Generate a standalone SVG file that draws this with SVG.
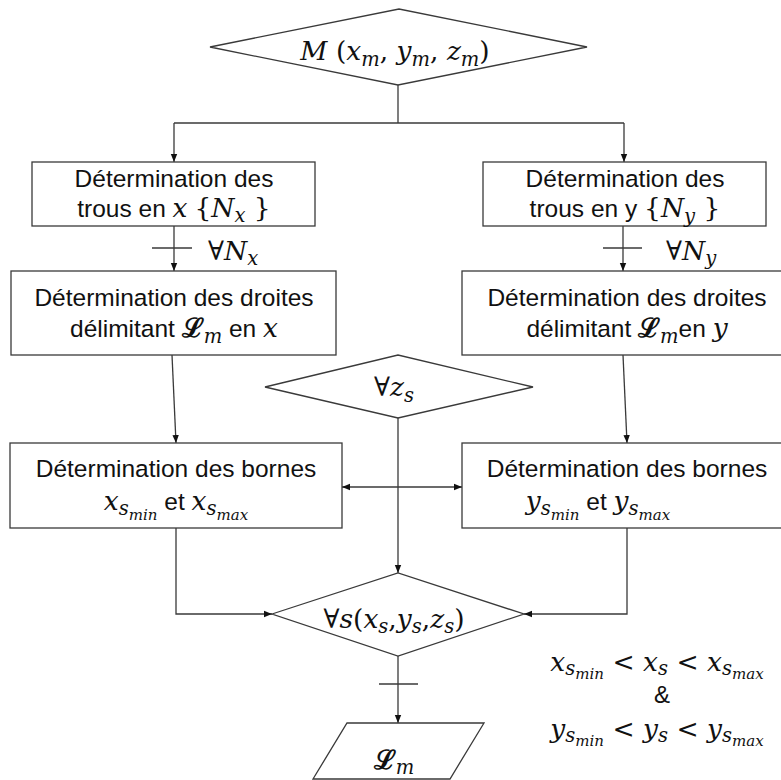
<svg xmlns="http://www.w3.org/2000/svg" width="781" height="780" viewBox="0 0 781 780">
<style>
.shape{fill:#fff;stroke:#3a3a3a;stroke-width:1.3}
.ln{fill:none;stroke:#3a3a3a;stroke-width:1.3}
.t{font-family:"Liberation Sans",Arial,sans-serif;font-size:24.5px;fill:#111;text-anchor:middle}
.m{font-family:"DejaVu Serif",serif;font-style:italic;font-size:26.5px;fill:#111}
.up{font-style:normal}
.s{font-size:19.5px}
.ss{font-size:15px}
.L{font-family:"DejaVu Serif",serif;font-weight:bold;font-style:normal}
</style>
<defs>
<marker id="ah" viewBox="0 0 10 10" refX="10" refY="5" markerWidth="8" markerHeight="8" markerUnits="userSpaceOnUse" orient="auto-start-reverse">
<path d="M0,1 L10,5 L0,9 Z" fill="#111"/>
</marker>
</defs>
<rect width="781" height="780" fill="#fff"/>

<g id="connectors">
<polyline class="ln" points="398,85 398,123"/>
<polyline class="ln" points="174,123 624,123"/>
<line class="ln" x1="174" y1="123" x2="174" y2="162" marker-end="url(#ah)"/>
<line class="ln" x1="624" y1="123" x2="624" y2="162" marker-end="url(#ah)"/>
<line class="ln" x1="174" y1="226" x2="174" y2="271" marker-end="url(#ah)"/>
<line class="ln" x1="152" y1="248" x2="192" y2="248"/>
<line class="ln" x1="623" y1="226" x2="623" y2="271" marker-end="url(#ah)"/>
<line class="ln" x1="603" y1="248" x2="642" y2="248"/>
<line class="ln" x1="172" y1="355" x2="176" y2="443" marker-end="url(#ah)"/>
<line class="ln" x1="623" y1="355" x2="627" y2="443" marker-end="url(#ah)"/>
<line class="ln" x1="398" y1="418" x2="398" y2="573" marker-end="url(#ah)"/>
<line class="ln" x1="342" y1="487" x2="462" y2="487" marker-start="url(#ah)" marker-end="url(#ah)"/>
<polyline class="ln" points="176,528 176,614 272,614" marker-end="url(#ah)"/>
<polyline class="ln" points="627,528 627,614 524,614" marker-end="url(#ah)"/>
<line class="ln" x1="398" y1="656" x2="398" y2="723" marker-end="url(#ah)"/>
<line class="ln" x1="379" y1="684" x2="418" y2="684"/>
</g>

<g id="start">
<polygon class="shape" points="210,47 399,9 587,47 398,85"/>
<text class="m" x="395" y="60" text-anchor="middle">M <tspan class="up">(</tspan>x<tspan class="s" dy="6">m</tspan><tspan class="up" dy="-6">,</tspan> y<tspan class="s" dy="6">m</tspan><tspan class="up" dy="-6">,</tspan> z<tspan class="s" dy="6">m</tspan><tspan class="up" dy="-6">)</tspan></text>
</g>

<g id="trous-x">
<rect class="shape" x="32" y="162" width="283" height="64"/>
<text class="t" x="174" y="187">Détermination des</text>
<text class="t" x="174" y="217">trous en <tspan class="m">x</tspan> <tspan class="m up">{</tspan><tspan class="m">N</tspan><tspan class="m s" dy="5">x</tspan><tspan class="m up" dy="-5"> }</tspan></text>
</g>

<g id="trous-y">
<rect class="shape" x="483" y="162" width="283" height="64"/>
<text class="t" x="625" y="187">Détermination des</text>
<text class="t" x="625" y="217">trous en y <tspan class="m up">{</tspan><tspan class="m">N</tspan><tspan class="m s" dy="6">y</tspan><tspan class="m up" dy="-6"> }</tspan></text>
</g>

<text id="label-nx" class="m" x="208" y="260"><tspan class="up">∀</tspan>N<tspan class="s" dy="5">x</tspan></text>
<text id="label-ny" class="m" x="666" y="260"><tspan class="up">∀</tspan>N<tspan class="s" dy="5">y</tspan></text>

<g id="droites-x">
<rect class="shape" x="11" y="271" width="325" height="84"/>
<text class="t" x="174" y="306">Détermination des droites</text>
<text class="t" x="174" y="337">délimitant <tspan class="m L">ℒ</tspan><tspan class="m s" dy="6">m</tspan><tspan dy="-6"> en </tspan><tspan class="m">x</tspan></text>
</g>

<g id="droites-y">
<rect class="shape" x="462" y="271" width="330" height="84"/>
<text class="t" x="627" y="306">Détermination des droites</text>
<text class="t" x="627" y="337">délimitant <tspan class="m L">ℒ</tspan><tspan class="m s" dy="6">m</tspan><tspan dy="-6">en </tspan><tspan class="m">y</tspan></text>
</g>

<g id="forall-zs">
<polygon class="shape" points="265,387 398,355 533,387 398,418"/>
<text class="m" x="394" y="396" text-anchor="middle"><tspan class="up">∀</tspan>z<tspan class="s" dy="6">s</tspan></text>
</g>

<g id="bornes-x">
<rect class="shape" x="10" y="443" width="332" height="85"/>
<text class="t" x="176" y="477">Détermination des bornes</text>
<text class="t" x="176" y="510"><tspan class="m">x</tspan><tspan class="m s" dy="5">s</tspan><tspan class="m ss" dy="5">min</tspan><tspan dy="-10"> et </tspan><tspan class="m">x</tspan><tspan class="m s" dy="5">s</tspan><tspan class="m ss" dy="5">max</tspan></text>
</g>

<g id="bornes-y">
<rect class="shape" x="462" y="443" width="330" height="85"/>
<text class="t" x="627" y="477">Détermination des bornes</text>
<text class="t" x="598" y="510"><tspan class="m">y</tspan><tspan class="m s" dy="5">s</tspan><tspan class="m ss" dy="5">min</tspan><tspan dy="-10"> et </tspan><tspan class="m">y</tspan><tspan class="m s" dy="5">s</tspan><tspan class="m ss" dy="5">max</tspan></text>
</g>

<g id="forall-s">
<polygon class="shape" points="272,614 398,573 524,614 398,656"/>
<text class="m" x="394" y="628" text-anchor="middle"><tspan class="up">∀</tspan>s<tspan class="up">(</tspan>x<tspan class="s" dy="5">s</tspan><tspan class="up" dy="-5">,</tspan>y<tspan class="s" dy="5">s</tspan><tspan class="up" dy="-5">,</tspan>z<tspan class="s" dy="5">s</tspan><tspan class="up" dy="-5">)</tspan></text>
</g>

<g id="result">
<polygon class="shape" points="347,723 484,723 450,779 313,779"/>
<text class="m" x="394" y="769" text-anchor="middle"><tspan class="L">ℒ</tspan><tspan class="s" dy="5">m</tspan></text>
</g>

<g id="condition">
<text class="m" x="657" y="671" text-anchor="middle">x<tspan class="s" dy="4">s</tspan><tspan class="ss" dy="4">min</tspan><tspan class="up" dy="-8"> &lt; </tspan>x<tspan class="s" dy="4">s</tspan><tspan class="up" dy="-4"> &lt; </tspan>x<tspan class="s" dy="4">s</tspan><tspan class="ss" dy="4">max</tspan></text>
<text class="t" x="662" y="703" style="font-size:24px">&amp;</text>
<text class="m" x="657" y="738" text-anchor="middle">y<tspan class="s" dy="4">s</tspan><tspan class="ss" dy="4">min</tspan><tspan class="up" dy="-8"> &lt; </tspan>y<tspan class="s" dy="4">s</tspan><tspan class="up" dy="-4"> &lt; </tspan>y<tspan class="s" dy="4">s</tspan><tspan class="ss" dy="4">max</tspan></text>
</g>
</svg>
